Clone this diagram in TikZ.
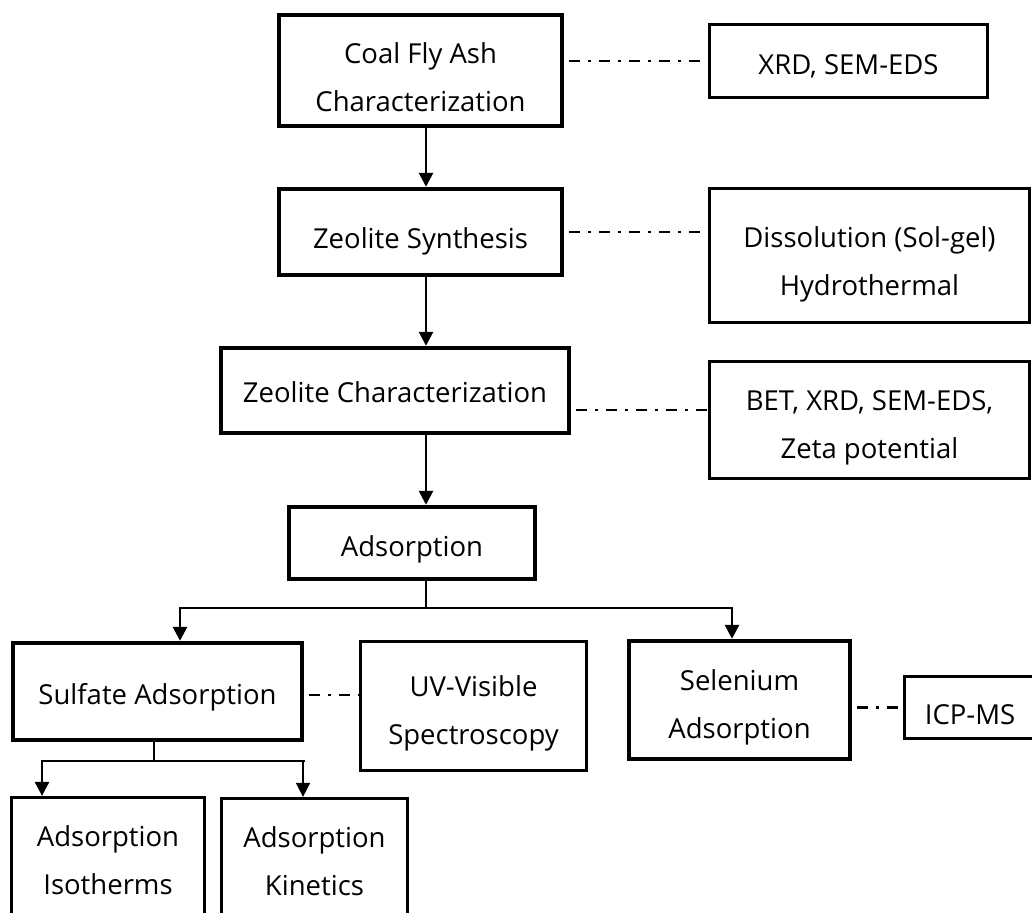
\documentclass[tikz,border=0pt]{standalone}
\usepackage{fontspec}
\setmainfont{Open Sans}
\usetikzlibrary{arrows.meta,calc}
\newcommand\btxt[2][5pt]{\raisebox{-#1}[\height][\depth]{\begin{tabular}{@{}c@{}}#2\end{tabular}}}
\begin{document}
\begin{tikzpicture}[x=1pt,y=-1pt,
  every node/.style={inner sep=0pt,font=\fontsize{27.5}{48}\selectfont},
  thickbox/.style={draw,line width=4.4pt,rectangle},
  thinbox/.style={draw,line width=2.8pt,rectangle},
  arr/.style={line width=2.7pt,-{Triangle[length=14pt,width=14pt]}},
  thinarr/.style={line width=1.5pt,-{Triangle[length=14pt,width=14pt]}},
  busline/.style={line width=2.7pt},
  thinline/.style={line width=1.3pt},
  ddash/.style={line width=2.8pt,dash pattern=on 11pt off 8pt on 3pt off 8pt,dash phase=25pt}]
\useasboundingbox (0,0) rectangle (1032,912);
\fill[white] (0,0) rectangle (1032,912);
% main column
\node[thickbox,minimum width=283pt,minimum height=111pt] (coal) at (420.5,70.5) {\btxt[7pt]{Coal Fly Ash\\Characterization}};
\node[thinbox,minimum width=278.4pt,minimum height=73.4pt] (xrd) at (848.5,61) {\btxt[4pt]{XRD, SEM-EDS}};
\node[thickbox,minimum width=283pt,minimum height=86pt] (syn) at (420.5,232) {\btxt[6.5pt]{Zeolite Synthesis}};
\node[thinbox,minimum width=320.4pt,minimum height=134.4pt] (dis) at (869.5,255.5) {\btxt[6pt]{Dissolution (Sol-gel)\\Hydrothermal}};
\node[thickbox,minimum width=348pt,minimum height=85pt] (zch) at (395,390.5) {\btxt[2.5pt]{Zeolite Characterization}};
\node[thinbox,minimum width=320.4pt,minimum height=117.4pt] (bet) at (869.5,420) {\btxt[5pt]{BET, XRD, SEM-EDS,\\Zeta potential}};
\node[thickbox,minimum width=246pt,minimum height=72pt] (ads) at (412,543) {\btxt[4pt]{Adsorption}};
% lower row
\node[thickbox,minimum width=289pt,minimum height=97pt] (sul) at (157.5,691.5) {\btxt[3.5pt]{Sulfate Adsorption}};
\node[thinbox,minimum width=226.4pt,minimum height=129.4pt] (uv) at (473.5,706) {\btxt[4.5pt]{UV-Visible\\Spectroscopy}};
\node[thickbox,minimum width=221pt,minimum height=118pt] (sel) at (739.5,700) {\btxt[4.5pt]{Selenium\\Adsorption}};
\node[thinbox,minimum width=131.4pt,minimum height=62.4pt] (icp) at (970,707.5) {\btxt[7.5pt]{ICP-MS}};
\node[thinbox,minimum width=193.4pt,minimum height=126.4pt] (iso) at (108,860.5) {\btxt[0pt]{Adsorption\\Isotherms}};
\node[thinbox,line width=3.2pt,minimum width=186pt,minimum height=125pt] (kin) at (314.5,861) {\btxt[1pt]{Adsorption\\Kinetics}};
% helper coordinates
\coordinate (spine) at (426,0);
\coordinate (bus1) at (426,608);
\coordinate (sa) at (180,608);
\coordinate (sb) at (732,608);
\coordinate (bus2) at (154,761);
\coordinate (ia) at (42,761);
\coordinate (kh) at (303,761);
\coordinate (d3) at (0,410);
\coordinate (d4) at (0,695);
% vertical arrows
\draw[arr] (coal.south -| spine) -- (syn.north -| spine);
\draw[arr] (syn.south -| spine) -- (zch.north -| spine);
\draw[arr] (zch.south -| spine) -- (ads.north -| spine);
% adsorption split
\draw[thinline] (ads.south -| spine) -- (bus1);
\draw[arr] (bus1) -| (sa |- sul.north);
\draw[arr] (bus1) -| (sb |- sel.north);
% sulfate split
\draw[thinline] (sul.south -| bus2) -- (bus2);
\draw[arr] (bus2) -| (ia |- iso.north);
\draw[busline] (bus2) -- ($(kh)+(1.5,0)$);
\draw[thinarr] (kh) -- (kh |- kin.north);
% dash-dot links
\draw[ddash] (coal.east |- xrd.west) -- (xrd.west);
\draw[ddash] (syn.east) -- (syn.east -| dis.west);
\draw[ddash] (zch.east |- d3) -- (bet.west |- d3);
\draw[ddash] (sul.east |- d4) -- (uv.west |- d4);
\draw[ddash] (sel.east |- icp.west) -- (icp.west);
\end{tikzpicture}
\end{document}
